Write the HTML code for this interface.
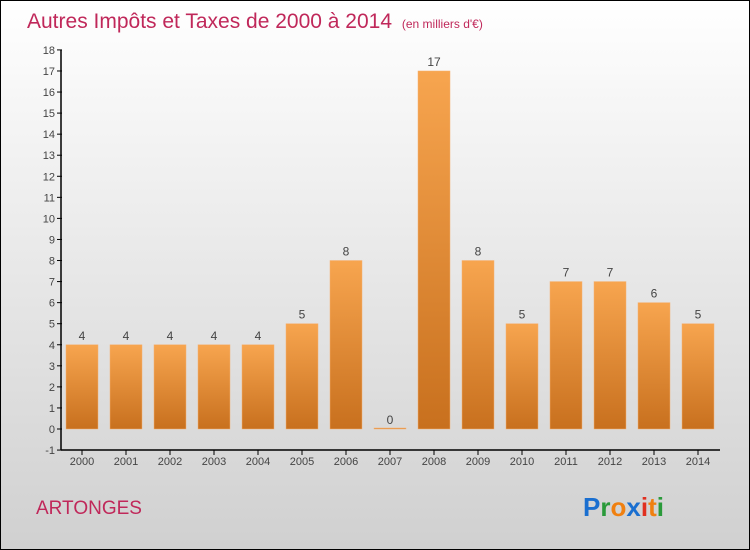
<!DOCTYPE html>
<html><head><meta charset="utf-8"><style>
html,body{margin:0;padding:0}
body{width:750px;height:550px;overflow:hidden;font-family:"Liberation Sans",sans-serif}
#wrap{position:absolute;left:0;top:0;width:748px;height:548px;border:1px solid #000;background:linear-gradient(#ffffff 0%,#ececec 40%,#d0d0d0 100%)}
</style></head><body>
<div id="wrap">
<svg width="750" height="550" style="position:absolute;left:-1px;top:-1px">
<defs><linearGradient id="bg" x1="0" y1="0" x2="0" y2="1"><stop offset="0" stop-color="#f7a54f"/><stop offset="1" stop-color="#c8701e"/></linearGradient></defs>
<text x="27" y="28" font-size="21" fill="#c0285a">Autres Impôts et Taxes de 2000 à 2014 <tspan font-size="12" dx="4">(en milliers d'€)</tspan></text>
<g id="axes"></g>
<g id="bars"></g>
<text x="36" y="514" font-size="19" fill="#c0285a">ARTONGES</text>
<text x="583" y="516" font-size="26" font-weight="bold"><tspan fill="#1a6fd0">P</tspan><tspan fill="#2a9a3a">r</tspan><tspan fill="#f08010">o</tspan><tspan fill="#1a6fd0">x</tspan><tspan fill="#e03020">i</tspan><tspan fill="#f08010">t</tspan><tspan fill="#2a9a3a">i</tspan></text>
</svg></div>
<script>
const years=["2000","2001","2002","2003","2004","2005","2006","2007","2008","2009","2010","2011","2012","2013","2014"];
const values=[4,4,4,4,4,5,8,0,17,8,5,7,7,6,5];
const yTicks=[-1,0,1,2,3,4,5,6,7,8,9,10,11,12,13,14,15,16,17,18];
const NS="http://www.w3.org/2000/svg";
const y=v=>429-(v)*21.06;
const x=i=>82+i*44;
const ax=document.getElementById('axes'),bs=document.getElementById('bars');
function mk(p,t,a){const e=document.createElementNS(NS,t);for(const k in a)e.setAttribute(k,a[k]);p.appendChild(e);return e;}
const yl=mk(ax,'line',{x1:61,y1:y(18),x2:61,y2:y(-1),stroke:'#000','stroke-width':1.5});


const xl=mk(ax,'line',{x1:61,y1:y(-1),x2:720,y2:y(-1),stroke:'#000','stroke-width':1.5});


yTicks.forEach(t=>{
 mk(ax,'line',{x1:57,y1:y(t),x2:62,y2:y(t),stroke:'#000'});
 const tx=mk(ax,'text',{x:55,y:y(t)+4,'font-size':11,fill:'#444','text-anchor':'end'});
 tx.textContent=t;
 
 
});
years.forEach((yr,i)=>{
 mk(ax,'line',{x1:x(i),y1:y(-1),x2:x(i),y2:y(-1)+5,stroke:'#000'});
 const tx=mk(ax,'text',{x:x(i),y:y(-1)+15,'font-size':11,fill:'#444','text-anchor':'middle'});
 tx.textContent=yr;
 
 
 const v=values[i];
 const h=Math.max(1,y(0)-y(v));
 const r=mk(bs,'rect',{x:x(i)-16,y:y(0)-h,width:32,height:h,fill:'url(#bg)',stroke:'#f5b070','stroke-width':0.5});
 
 
 const lb=mk(bs,'text',{x:x(i),y:y(v)-5,'font-size':12,fill:'#444','text-anchor':'middle'});
 lb.textContent=v;
 
 
});
</script>
</body></html>
